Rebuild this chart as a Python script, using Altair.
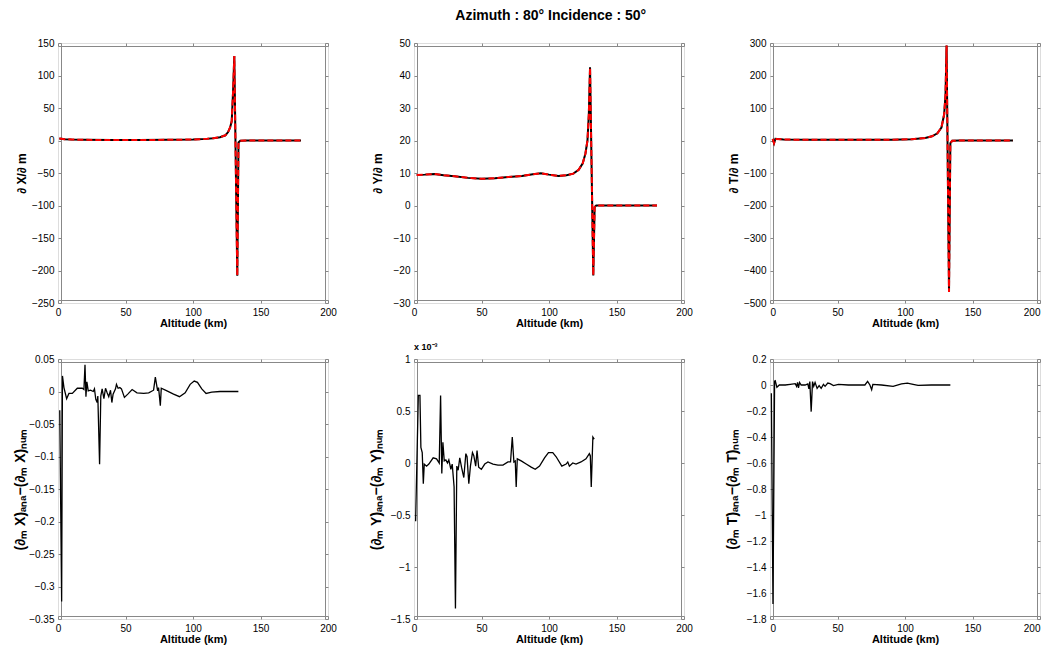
import altair as alt
import pandas as pd

# ---------------- data ----------------
alt_dx = [1, 5, 10, 20, 40, 60, 80, 100, 110, 115, 120, 124, 126, 127.5, 128.7, 129.7, 130.6, 132.8, 133.7, 135, 140, 160, 180]
dxdm = [3, 2, 1.5, 1, 0.8, 0.8, 1, 1.5, 2.5, 3.5, 5, 8, 13, 20, 30, 76, 130, -208, -3, -0.5, 0, 0, 0]

alt_dy = [2, 8, 15, 22, 30, 40, 50, 60, 70, 80, 88, 94, 100, 107, 113, 118, 122, 125, 127, 128.5, 129.5, 130.4, 132.8, 133.8, 135, 140, 160, 180]
dydm = [9.4, 9.5, 9.7, 9.3, 9.0, 8.5, 8.2, 8.4, 8.8, 9.1, 9.6, 9.9, 9.5, 9.1, 9.3, 9.8, 11, 13, 16, 20, 28, 42.5, -21.5, -0.5, 0, 0, 0, 0]

alt_dt = [2, 3, 4, 10, 30, 60, 90, 105, 115, 120, 124, 127, 129, 130, 130.8, 132.6, 133.6, 135, 140, 160, 180]
dtdm = [5, -8, 5, 3, 2, 2, 2.5, 4, 8, 13, 22, 40, 80, 140, 292, -466, -8, -1, 0, 0, 0]

alt_ex = [1.3, 2.7, 3.3, 4.4, 6.4, 8.1, 10.6, 14.3, 18, 19.2, 20, 20.7, 21.4, 22.4, 24.1, 26.1, 27, 28, 29, 29.5,
          30.8, 31.7, 32.7, 34, 35.2, 36.4, 37.6, 38.9, 39.9, 40.8, 42.6, 43.3, 44.5, 45.8, 47, 49.2, 51.7, 54.9,
          58.5, 63.5, 67.2, 70.8, 72.1, 73.8, 74.5, 75.8, 76.5, 80.7, 85.6, 90, 94.2, 97.9, 100.9, 103.3, 106.5,
          109.7, 113.9, 120, 133.6]
err_x = [-0.029, -0.323, 0.024, 0.006, -0.011, -0.003, -0.003, 0.005, 0.005, 0.003, 0.041, -0.008, 0.015, 0.001,
         0.002, 0, 0.004, -0.012, -0.017, -0.007, -0.112, -0.007, 0.004, -0.011, 0.005, -0.002, -0.008, 0.002,
         -0.017, -0.004, 0.004, 0.011, 0.005, 0.006, 0.004, -0.009, -0.004, 0.003, -0.002, -0.003, -0.002, 0.002,
         0.022, 0.001, 0.006, -0.022, 0.005, 0.001, -0.004, -0.008, -0.002, 0.011, 0.016, 0.014, 0.004, -0.003,
         -0.001, 0, 0]

alt_ey = [1.2, 3.2, 4.4, 5.1, 6.1, 6.9, 7.6, 9.3, 11, 14.2, 16.7, 18.7, 19.7, 20.6, 21.4, 22.4, 23.6, 24.8, 25.8,
          27.3, 28.3, 29.7, 30.7, 31.7, 32.7, 33.9, 35.2, 36.9, 38.4, 39.3, 40.6, 41.8, 43.3, 44.3, 45.7, 46.7,
          47.9, 49.9, 52.4, 54.8, 58.5, 62.2, 65.9, 69.6, 71.5, 72.8, 74, 75, 75.7, 76.5, 79.4, 83.1, 86.8, 89.8,
          93, 96.7, 99.6, 102.8, 105.3, 109.5, 112.7, 113.9, 115.1, 117.6, 120, 123.7, 127.4, 129.9, 130.6, 131.3,
          132.5, 133.5]
# in units of 1e-3
err_y = [-0.56, 0.65, 0.65, 0.15, 0.10, -0.20, -0.01, -0.03, -0.01, 0.05, 0.04, 0, 0.65, -0.10, 0.20, 0.02, 0.03,
         0, 0.03, -0.06, -0.01, -0.23, -1.40, -0.03, -0.07, 0.05, -0.04, -0.14, 0.09, 0.06, -0.20, -0.03, 0.10,
         0.07, -0.03, 0.12, -0.04, -0.06, -0.01, 0.01, -0.01, -0.02, -0.02, 0.01, 0.01, 0.25, 0.01, 0.02, -0.23,
         0.04, 0.02, -0.01, -0.04, -0.06, -0.03, 0.05, 0.10, 0.10, 0.06, -0.03, -0.01, 0.01, -0.03, 0, -0.01, 0.01,
         0.04, 0.09, 0.07, -0.23, 0.25, 0.23]

alt_et = [1.0, 2.2, 3.4, 3.9, 5.1, 6.9, 11.3, 15, 18.7, 19.7, 20.4, 21.1, 21.9, 23.1, 26, 28, 28.8, 29.5, 30.5,
          31.5, 32.4, 33.4, 34.9, 36.4, 37.9, 39.6, 40.8, 42.8, 44.5, 47, 50.7, 58, 65.4, 70.3, 72.3, 74, 75.3,
          76.2, 82.6, 91.2, 97.4, 101.8, 106, 109.7, 119.5, 133.6]
err_t = [-0.064, -1.685, 0.03, 0.033, -0.018, 0, 0, 0.005, 0.01, -0.01, 0.02, -0.023, 0.02, 0, 0, 0.008, -0.03,
         0.026, -0.205, 0.026, -0.01, 0.02, -0.026, -0.005, -0.026, 0.005, -0.01, 0.015, 0.01, -0.005, 0.005, 0,
         0, 0, 0.028, 0, -0.036, 0.005, 0, -0.01, 0.008, 0.015, 0.005, -0.003, 0, 0]

x_ticks = [0, 50, 100, 150, 200]
yt_dx = [-250, -200, -150, -100, -50, 0, 50, 100, 150]
yt_dy = [-30, -20, -10, 0, 10, 20, 30, 40, 50]
yt_dt = [-500, -400, -300, -200, -100, 0, 100, 200, 300]
yt_ex = [-0.35, -0.3, -0.25, -0.2, -0.15, -0.1, -0.05, 0, 0.05]
yt_ey = [-1.5, -1, -0.5, 0, 0.5, 1]
yt_et = [-1.8, -1.6, -1.4, -1.2, -1, -0.8, -0.6, -0.4, -0.2, 0, 0.2]

FONT = "Liberation Sans"
W, H = 270, 260
TK = 3


def panel(xs, ys, ydomain, yticks, ytitle, dashed_red, title=None, flush=False, ytitle_size=12, ytitle_x=-40):
    df = pd.DataFrame({"alt": xs, "v": ys})
    base = alt.Chart(df)
    xsc = alt.Scale(domain=[0, 200], nice=False, zero=False)
    ysc = alt.Scale(domain=ydomain, nice=False, zero=False)
    main = base.mark_line(color="black", strokeWidth=2 if dashed_red else 1.3).encode(
        x=alt.X("alt:Q", scale=xsc,
                axis=alt.Axis(orient="bottom", values=x_ticks, title="Altitude (km)", offset=-TK, grid=False,
                              tickSize=TK, labelPadding=4, format="~f", labelFlush=flush,
                              titleY=26, titleBaseline="alphabetic")),
        y=alt.Y("v:Q", scale=ysc,
                axis=alt.Axis(orient="left", values=yticks, title=ytitle, offset=-TK, tickSize=TK, grid=False,
                              labelPadding=4, format="~f", titleX=ytitle_x, titleBaseline="middle",
                              titleFontSize=ytitle_size)),
    )
    if dashed_red:
        second = base.mark_line(color="#ff0000", strokeWidth=2, strokeDash=[6, 3])
    else:
        second = base.mark_line(color="black", opacity=0)
    second = second.encode(
        x=alt.X("alt:Q", scale=xsc,
                axis=alt.Axis(orient="top", values=x_ticks, title=None, labels=False, offset=-TK,
                              tickSize=TK, grid=False)),
        y=alt.Y("v:Q", scale=ysc,
                axis=alt.Axis(orient="right", values=yticks, title=None, labels=False, offset=-TK,
                              tickSize=TK, grid=False)),
    )
    props = dict(width=W, height=H)
    if title is not None:
        props["title"] = title
    return alt.layer(main, second).resolve_axis(x="independent", y="independent").properties(**props)


p1 = panel(alt_dx, dxdm, [-250, 150], yt_dx, "∂ X/∂ m", True)
p2 = panel(alt_dy, dydm, [-30, 50], yt_dy, "∂ Y/∂ m", True)
p3 = panel(alt_dt, dtdm, [-500, 300], yt_dt, "∂ T/∂ m", True, flush=True)
p4 = panel(alt_ex, err_x, [-0.35, 0.05], yt_ex, "(∂ₘ X)ₐₙₐ−(∂ₘ X)ₙᵤₘ", False, ytitle_size=14, ytitle_x=-41)
p5 = panel(alt_ey, err_y, [-1.5, 1], yt_ey, "(∂ₘ Y)ₐₙₐ−(∂ₘ Y)ₙᵤₘ", False, ytitle_size=14, ytitle_x=-41,
           title=alt.TitleParams("x 10⁻³", anchor="start", fontSize=9, font=FONT, fontWeight="bold",
                                 offset=2, frame="group", color="black"))
p6 = panel(alt_et, err_t, [-1.8, 0.2], yt_et, "(∂ₘ T)ₐₙₐ−(∂ₘ T)ₙᵤₘ", False, flush=True,
           ytitle_size=14, ytitle_x=-41)

chart = alt.concat(
    p1, p2, p3, p4, p5, p6, columns=3, spacing={"row": 56, "column": 86}, bounds="flush",
    title=alt.TitleParams("Azimuth : 80° Incidence : 50°", fontSize=14, font=FONT, fontWeight="bold",
                          anchor="middle", color="black", offset=15, dx=24),
).properties(
    padding={"left": 4, "top": 0, "right": 0, "bottom": 0}
).configure_view(
    stroke="black", strokeWidth=1
).configure_axis(
    grid=False, domain=False, tickColor="black", tickWidth=1,
    labelFont=FONT, labelFontWeight="bold", labelFontSize=9.5, labelColor="black",
    titleFont=FONT, titleFontWeight="bold", titleFontSize=12, titleColor="black",
).configure(background="white")

chart.save("out.html", embed_options={"renderer": "svg", "actions": False})
